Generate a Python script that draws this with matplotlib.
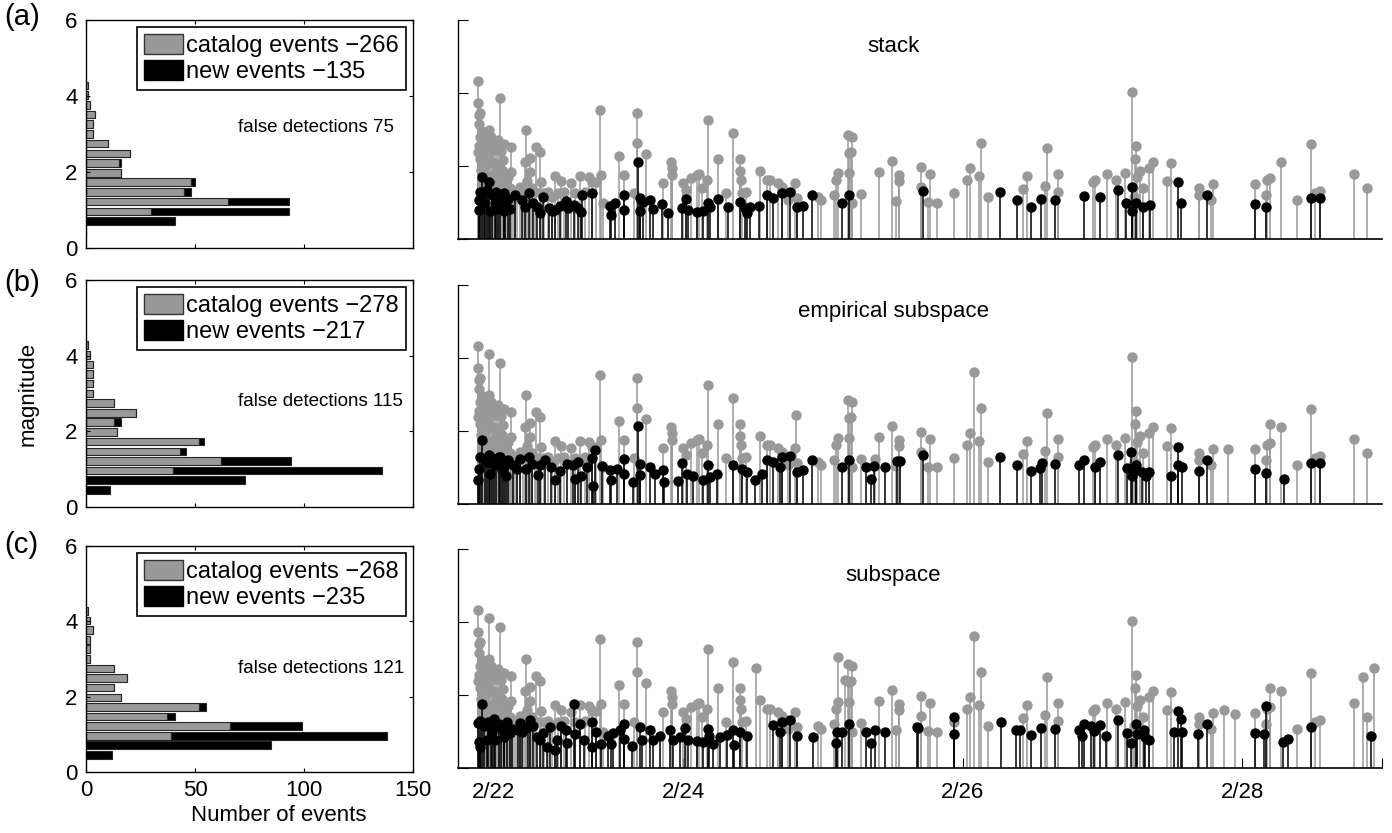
import matplotlib
matplotlib.use('Agg')
import matplotlib.pyplot as plt
from matplotlib.patches import Patch

plt.rcParams['font.family'] = ['Liberation Sans', 'DejaVu Sans']

GRAY = '#999999'

# ---- magnitude histograms (bin centres, counts per bin low->high) ----
mag_bins = [0.45, 0.71, 0.96, 1.22, 1.47, 1.73, 1.98, 2.24,
            2.49, 2.75, 3.00, 3.26, 3.51, 3.77, 4.02, 4.28]

hist_cat_a = [0, 0, 30, 65, 45, 48, 16, 15, 20, 10, 3, 3, 4, 2, 1, 1]
hist_new_a = [0, 41, 63, 28, 3, 2, 0, 1, 0, 0, 0, 0, 0, 0, 0, 0]
hist_cat_b = [0, 0, 40, 62, 43, 52, 14, 13, 23, 13, 3, 3, 3, 3, 2, 1]
hist_new_b = [11, 73, 96, 32, 3, 2, 0, 3, 0, 0, 0, 0, 0, 0, 0, 0]
hist_cat_c = [0, 0, 39, 66, 37, 52, 16, 13, 19, 13, 2, 2, 2, 3, 2, 1]
hist_new_c = [12, 85, 99, 33, 4, 3, 0, 0, 0, 0, 0, 0, 0, 0, 0, 0]

legend_cat = ['catalog events \u2212266', 'catalog events \u2212278', 'catalog events \u2212268']
legend_new = ['new events \u2212135', 'new events \u2212217', 'new events \u2212235']
false_text = ['false detections 75', 'false detections 115', 'false detections 121']
false_y = [3.16, 2.78, 2.76]
panel_ids = ['(a)', '(b)', '(c)']
methods = ['stack', 'empirical subspace', 'subspace']

# ---- event time series: time in days after 2/22 00:00, magnitude ----
cat_base = [
    (0.531, 4.33), (0.531, 3.72), (0.538, 3.40), (0.538, 3.15), (0.550, 3.46),
    (0.545, 2.80), (0.531, 2.39), (0.688, 3.87), (0.610, 2.99), (0.626, 2.79),
    (0.676, 2.71), (0.721, 2.60), (0.769, 2.53), (0.712, 2.16), (0.771, 1.83),
    (0.876, 3.00), (0.871, 2.10), (0.907, 2.21), (0.950, 2.53), (0.978, 2.39),
    (0.902, 1.83), (0.831, 1.42), (1.081, 1.73), (1.128, 1.59), (1.200, 1.53),
    (1.264, 1.73), (1.324, 1.71), (1.407, 3.53), (1.414, 1.75), (1.376, 1.57),
    (1.540, 2.27), (1.576, 1.75), (1.674, 3.44), (1.674, 2.64), (1.733, 2.33),
    (1.650, 1.25), (1.855, 1.53), (1.912, 2.10), (1.919, 1.94), (1.919, 1.75),
    (2.002, 1.53), (2.021, 1.34), (2.057, 1.66), (2.097, 1.75), (2.117, 1.78),
    (2.133, 1.39), (2.169, 1.62), (2.176, 3.26), (2.252, 2.18), (2.305, 1.25),
    (2.360, 2.91), (2.407, 2.18), (2.407, 1.87), (2.414, 1.62), (2.419, 1.27),
    (2.450, 1.30), (2.550, 1.87), (2.597, 1.62), (2.620, 1.62), (2.680, 1.53),
    (2.705, 1.42), (2.800, 1.54), (2.750, 1.07), (2.812, 1.11), (2.962, 1.16),
    (2.985, 1.07), (3.080, 1.21), (3.097, 1.62), (3.109, 1.80), (3.180, 2.85),
    (3.211, 2.79), (3.188, 2.35), (3.200, 2.39), (3.188, 1.80), (3.205, 1.00),
    (3.276, 1.23), (3.402, 1.84), (3.497, 2.15), (3.545, 1.75), (3.548, 1.59),
    (3.526, 1.05), (3.705, 1.98), (3.705, 1.43), (3.770, 1.78), (3.750, 1.02),
    (3.820, 1.00), (3.940, 1.25), (4.030, 1.63), (4.050, 1.94), (4.130, 2.64),
    (4.120, 1.73), (4.180, 1.14), (4.430, 1.36), (4.460, 1.73), (4.590, 1.45),
    (4.600, 2.48), (4.680, 1.78), (4.682, 1.30), (4.930, 1.55), (4.950, 1.63),
    (5.030, 1.78), (5.100, 1.63), (5.160, 1.80), (5.210, 4.04), (5.240, 2.56),
    (5.230, 2.18), (5.270, 1.87), (5.245, 1.71), (5.290, 1.39), (5.330, 1.94),
    (5.360, 2.12), (5.228, 1.16), (5.460, 1.60), (5.490, 2.07), (5.690, 1.39),
    (5.693, 1.20), (5.790, 1.51), (5.780, 1.07), (6.090, 1.50), (6.170, 1.21),
    (6.180, 1.63), (6.200, 1.66), (6.280, 2.12), (6.390, 1.07), (6.490, 2.60),
    (6.520, 1.27), (6.560, 1.32), (6.800, 1.78), (6.890, 1.39),
    # early aftershock cluster
    (0.540, 2.55), (0.548, 2.20), (0.556, 1.90), (0.565, 1.60), (0.575, 2.45),
    (0.585, 1.35), (0.595, 2.05), (0.605, 1.70), (0.615, 2.30), (0.632, 1.50),
    (0.642, 2.10), (0.652, 1.80), (0.662, 1.20), (0.668, 2.00), (0.683, 1.60),
    (0.695, 2.40), (0.702, 1.40), (0.708, 1.90), (0.728, 1.50), (0.735, 1.30),
    (0.745, 1.70), (0.755, 1.20), (0.762, 1.40), (0.782, 1.10), (0.800, 1.30),
    (0.815, 1.20), (0.852, 1.35), (0.885, 1.60), (0.920, 1.40), (0.942, 1.30),
    (0.985, 1.55), (1.005, 1.25), (1.035, 1.30), (1.065, 1.15), (1.105, 1.25),
    (1.150, 1.30), (1.225, 1.25), (1.300, 1.30), (1.352, 1.55), (1.430, 1.00),
    (0.560, 2.95), (0.585, 2.65), (0.600, 2.85), (0.640, 2.55), (0.660, 2.45),
]
cat_extra_a = []
cat_extra_b = [(0.610, 4.12), (4.080, 3.63), (5.900, 1.52), (6.200, 2.20),
               (2.807, 2.43), (3.370, 1.24)]
cat_extra_c = [(0.610, 4.11), (4.080, 3.62), (2.520, 2.74), (3.109, 3.04),
               (3.157, 2.40), (5.867, 1.60), (5.950, 1.49), (6.200, 2.19),
               (6.864, 2.49), (6.943, 2.74)]

new_a = [
    (0.538, 0.79), (0.538, 1.07), (0.560, 1.71), (0.610, 1.57), (0.574, 0.98),
    (0.617, 0.77), (0.657, 0.98), (0.674, 0.81), (0.717, 0.78), (0.729, 0.98),
    (0.764, 0.81), (0.847, 1.07), (0.871, 0.89), (0.955, 0.87), (0.978, 0.70),
    (1.062, 0.77), (1.086, 0.79), (1.164, 1.04), (1.217, 0.93), (1.252, 0.84),
    (1.271, 0.75), (1.276, 1.21), (1.347, 1.27), (1.478, 0.90), (1.483, 0.66),
    (1.514, 1.00), (1.578, 1.21), (1.580, 0.79), (1.679, 2.12), (1.693, 1.11),
    (1.695, 0.78), (1.717, 1.02), (1.760, 1.07), (1.788, 0.81), (1.848, 0.96),
    (1.895, 0.72), (1.990, 0.84), (2.019, 1.09), (2.038, 0.79), (2.098, 0.75),
    (2.145, 0.78), (2.181, 0.98), (2.193, 0.87), (2.248, 1.09), (2.324, 0.89),
    (2.407, 1.02), (2.443, 0.84), (2.460, 0.70), (2.478, 0.89), (2.543, 0.90),
    (2.602, 1.21), (2.645, 1.13), (2.710, 1.27), (2.764, 1.30), (2.817, 0.89),
    (2.859, 0.90), (2.919, 1.21), (3.138, 1.00), (3.188, 1.21),
    (3.720, 1.32), (4.270, 1.28), (4.390, 1.06), (4.490, 0.89), (4.560, 1.09),
    (4.660, 1.07), (4.870, 1.19), (4.980, 1.14), (5.110, 1.34), (5.210, 1.43),
    (5.170, 0.98), (5.210, 0.78), (5.240, 0.98), (5.290, 0.89), (5.340, 0.93),
    (5.540, 1.55), (5.560, 1.00), (5.750, 1.21), (6.090, 0.96), (6.170, 0.87),
    (6.490, 1.13), (6.560, 1.11),
    (0.550, 1.30), (0.580, 1.25), (0.600, 1.35), (0.630, 1.20), (0.660, 1.30),
    (0.690, 1.15), (0.720, 1.25), (0.750, 1.10), (0.800, 1.20), (0.900, 1.25),
    (0.930, 1.00), (1.000, 1.15), (1.040, 0.85), (1.120, 0.90), (1.180, 0.85),
]
new_b = [
    (0.531, 0.65), (0.538, 0.97), (0.560, 1.74), (0.597, 1.15), (0.621, 0.83),
    (0.645, 1.06), (0.681, 1.29), (0.705, 0.92), (0.733, 0.77), (0.783, 1.08),
    (0.836, 1.24), (0.876, 0.95), (0.895, 1.29), (0.962, 0.79), (0.979, 1.06),
    (1.057, 1.01), (1.086, 0.65), (1.169, 1.10), (1.212, 1.06), (1.229, 0.69),
    (1.271, 0.77), (1.312, 1.01), (1.350, 1.26), (1.355, 0.49), (1.371, 1.47),
    (1.479, 0.92), (1.483, 0.67), (1.574, 1.24), (1.576, 0.83), (1.645, 0.60),
    (1.676, 2.13), (1.693, 1.10), (1.695, 0.79), (1.764, 1.01), (1.800, 0.83),
    (1.855, 0.92), (1.864, 0.60), (1.967, 0.62), (1.995, 1.13), (2.026, 0.83),
    (2.074, 0.76), (2.145, 0.65), (2.181, 1.06), (2.193, 0.74), (2.240, 0.83),
    (2.360, 1.06), (2.419, 0.97), (2.455, 0.88), (2.514, 0.65), (2.562, 0.83),
    (2.598, 1.20), (2.645, 1.15), (2.693, 1.01), (2.710, 1.29), (2.764, 1.32),
    (2.817, 0.88), (2.860, 0.92), (2.919, 1.21), (3.138, 1.01), (3.188, 1.21),
    (3.307, 1.00), (3.347, 0.69), (3.364, 1.03), (3.447, 1.01), (3.533, 1.17),
    (3.550, 1.17), (3.720, 1.33), (4.270, 1.29), (4.390, 1.08), (4.490, 0.90),
    (4.555, 0.99), (4.567, 1.11), (4.664, 1.09), (4.836, 1.08), (4.867, 1.20),
    (4.950, 1.01), (4.983, 1.15), (5.110, 1.35), (5.205, 1.42), (5.174, 0.99),
    (5.210, 0.77), (5.240, 1.06), (5.243, 0.92), (5.283, 0.89), (5.310, 0.76),
    (5.330, 0.88), (5.490, 0.77), (5.540, 1.56), (5.542, 1.08), (5.569, 1.00),
    (5.688, 0.90), (5.747, 1.20), (6.090, 0.95), (6.170, 0.86), (6.300, 0.69),
    (6.490, 1.13), (6.560, 1.12),
    (0.550, 1.30), (0.580, 1.20), (0.610, 1.35), (0.635, 1.25), (0.665, 1.15),
    (0.690, 1.30), (0.720, 1.05), (0.750, 1.20), (0.810, 0.95), (0.920, 1.10),
    (1.010, 1.20), (1.120, 0.90), (1.250, 1.15), (1.420, 1.05), (1.530, 0.95),
]
new_c = [
    (0.538, 0.71), (0.550, 0.58), (0.560, 1.74), (0.531, 1.23), (0.597, 0.76),
    (0.633, 0.99), (0.657, 0.76), (0.717, 0.85), (0.719, 1.03), (0.776, 1.08),
    (0.836, 1.23), (0.848, 0.99), (0.888, 1.12), (0.902, 1.31), (0.955, 0.85),
    (0.978, 0.76), (1.026, 0.58), (1.050, 1.12), (1.086, 0.48), (1.098, 0.78),
    (1.164, 1.03), (1.169, 0.68), (1.217, 1.76), (1.224, 0.94), (1.264, 1.21),
    (1.288, 0.78), (1.347, 1.26), (1.349, 0.58), (1.414, 0.67), (1.460, 0.89),
    (1.483, 0.67), (1.502, 0.96), (1.579, 1.21), (1.581, 0.80), (1.633, 0.59),
    (1.693, 1.12), (1.705, 0.78), (1.764, 1.03), (1.788, 0.76), (1.836, 0.89),
    (1.907, 1.03), (1.931, 0.78), (1.979, 0.85), (2.014, 1.10), (2.038, 0.78),
    (2.098, 0.74), (2.145, 0.71), (2.181, 1.08), (2.188, 0.89), (2.217, 0.65),
    (2.264, 0.85), (2.317, 0.91), (2.360, 1.03), (2.362, 0.62), (2.407, 0.99),
    (2.455, 0.89), (2.645, 1.19), (2.693, 0.99), (2.710, 1.26), (2.764, 1.31),
    (2.817, 0.89), (2.931, 0.85), (3.097, 0.68), (3.099, 0.99), (3.138, 0.99),
    (3.188, 1.21), (3.307, 0.99), (3.347, 0.68), (3.371, 1.03), (3.447, 1.00),
    (3.673, 1.12), (3.681, 1.10), (3.936, 1.40), (3.938, 0.92), (4.271, 1.26),
    (4.383, 1.05), (4.412, 1.03), (4.490, 0.91), (4.562, 1.10), (4.664, 1.08),
    (4.829, 1.05), (4.855, 0.89), (4.867, 1.20), (4.919, 1.14), (4.943, 1.01),
    (4.983, 1.17), (5.026, 0.89), (5.112, 1.32), (5.174, 0.96), (5.205, 0.68),
    (5.240, 1.20), (5.245, 0.94), (5.300, 1.03), (5.307, 0.85), (5.331, 0.76),
    (5.540, 1.56), (5.562, 1.35), (5.514, 0.99), (5.569, 0.99), (5.686, 0.94),
    (5.745, 1.20), (6.093, 0.96), (6.157, 0.92), (6.169, 1.70), (6.295, 0.71),
    (6.331, 0.80), (6.495, 1.12), (6.919, 0.89),
    (0.545, 1.30), (0.575, 1.15), (0.605, 1.25), (0.625, 1.10), (0.650, 1.35),
    (0.680, 1.20), (0.700, 1.10), (0.740, 1.25), (0.760, 0.95), (0.820, 1.05),
    (0.930, 1.15), (1.000, 0.95), (1.130, 1.15), (1.380, 1.00), (1.550, 1.05),
]

hist_cat = [hist_cat_a, hist_cat_b, hist_cat_c]
hist_new = [hist_new_a, hist_new_b, hist_new_c]
cat_events = [cat_base + cat_extra_a, cat_base + cat_extra_b, cat_base + cat_extra_c]
new_events = [new_a, new_b, new_c]

date_ticks = [0.643, 2.0, 4.0, 6.0, 7.0]
date_labels = ['2/22', '2/24', '2/26', '2/28', '']

W, H = 1392, 833
fig = plt.figure(figsize=(W / 100, H / 100), dpi=100)

left_rows = [(20, 248), (280, 507), (546, 772)]
right_rows = [(20, 239), (285, 504), (549, 768)]
label_y = [17, 283, 545]

for i in range(3):
    # histogram panel
    t, b = left_rows[i]
    ax = fig.add_axes([86 / W, 1 - b / H, 327 / W, (b - t) / H])
    ax.barh(mag_bins, hist_cat[i], height=0.2, color=GRAY, edgecolor='0.15',
            linewidth=0.8)
    ax.barh(mag_bins, hist_new[i], left=hist_cat[i], height=0.2, color='k',
            edgecolor='0.15', linewidth=0.8)
    ax.set_xlim(0, 150)
    ax.set_ylim(0, 6)
    ax.set_yticks([0, 2, 4, 6])
    ax.set_xticks([0, 50, 100, 150])
    ax.tick_params(direction='in', length=3, top=True, right=True,
                   labelsize=16, pad=6, width=0.8)
    if i < 2:
        ax.set_xticklabels([])
    else:
        ax.set_xlabel('Number of events', fontsize=16)
        ax.xaxis.set_label_coords(0.59, -0.145)
    if i == 1:
        ax.set_ylabel('magnitude', fontsize=16)
        ax.yaxis.set_label_coords(-0.145, 0.5)
    for s in ax.spines.values():
        s.set_linewidth(1.0)
    handles = [Patch(facecolor=GRAY, edgecolor='0.2'), Patch(facecolor='k', edgecolor='k')]
    leg = ax.legend(handles, [legend_cat[i], legend_new[i]], loc='upper right',
                    fontsize=17, fancybox=False, framealpha=1, edgecolor='k',
                    borderaxespad=0.3, handlelength=1.65, handleheight=0.9,
                    handletextpad=0.15, labelspacing=0.12, borderpad=0.3)
    leg.get_frame().set_linewidth(1.2)
    ax.text(0.465, false_y[i], false_text[i], transform=ax.get_yaxis_transform(),
            fontsize=13.5, va='center', ha='left')
    fig.text(0.003, 1 - label_y[i] / H, panel_ids[i], fontsize=21, va='center')

    # time series panel
    t, b = right_rows[i]
    ax2 = fig.add_axes([458 / W, 1 - b / H, 924 / W, (b - t) / H])
    ct = [e[0] for e in cat_events[i]]
    cm = [e[1] for e in cat_events[i]]
    nt = [e[0] for e in new_events[i]]
    nm = [e[1] for e in new_events[i]]
    ax2.vlines(ct, 0, cm, color=GRAY, linewidth=1.1, zorder=2)
    ax2.plot(ct, cm, 'o', color=GRAY, markersize=7.5, markeredgewidth=0, zorder=3)
    ax2.vlines(nt, 0, nm, color='k', linewidth=1.1, zorder=4)
    ax2.plot(nt, nm, 'o', color='k', markersize=7.5, markeredgewidth=0, zorder=5)
    ax2.set_xlim(0.39, 7.0)
    ax2.set_ylim(0, 6)
    ax2.set_yticks([0, 2, 4, 6])
    ax2.set_yticklabels([])
    ax2.spines['top'].set_visible(False)
    ax2.spines['right'].set_visible(False)
    ax2.spines['left'].set_linewidth(1.0)
    ax2.spines['bottom'].set_linewidth(1.2)
    ax2.tick_params(axis='y', direction='in', length=7, width=0.8)
    if i < 2:
        ax2.set_xticks([])
    else:
        ax2.set_xticks(date_ticks)
        ax2.set_xticklabels(date_labels)
        ax2.tick_params(axis='x', direction='in', length=7, width=0.8,
                        labelsize=16, pad=10)
    ax2.text(0.471, 0.88, methods[i], transform=ax2.transAxes, fontsize=16,
             ha='center', va='center')

fig.savefig('out.png', dpi=100)
